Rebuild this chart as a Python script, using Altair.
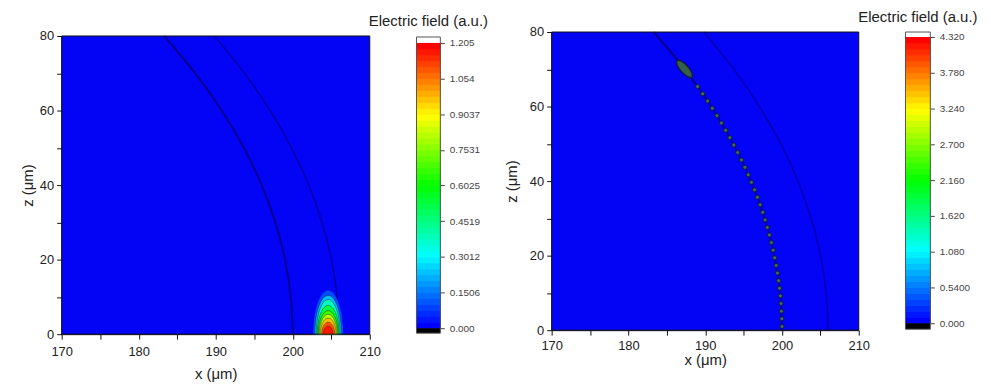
import numpy as np
import pandas as pd
import altair as alt

FONT = "Liberation Sans"
BLUE = "#0303f6"
TXT = "#222222"

# ---------------- data ----------------
x_domain = [170, 210]
z_domain = [0, 80]
x_ticks = [170, 175, 180, 185, 190, 195, 200, 205, 210]
z_ticks = [0, 10, 20, 30, 40, 50, 60, 70, 80]

# dark ring boundaries (x read at given z)
arc_z = [0, 10, 20, 30, 40, 50, 60, 70, 80]
arc_inner_x = [200.0, 199.75, 199.0, 197.74, 195.96, 193.65, 190.79, 187.35, 183.30]
arc_outer_x = [206.0, 205.76, 205.03, 203.80, 202.08, 199.84, 197.06, 193.74, 189.83]

# left panel: hot spot at the bottom edge, contour levels and their half sizes (µm)
spot_x0 = 204.6
spot_levels = [0.03, 0.1506, 0.3012, 0.4519, 0.6025, 0.7531, 0.9037, 1.054, 1.15]
spot_half_w = [1.94, 1.74, 1.55, 1.42, 1.29, 1.16, 1.03, 0.85, 0.62]
spot_half_h = [11.7, 10.4, 9.3, 7.7, 6.3, 5.3, 4.3, 3.2, 2.2]

# right panel: chain of small spots along the inner ring and the large blob
bead_x = [200.0, 199.98, 199.93, 199.87, 199.79, 199.68, 199.56, 199.41, 199.24, 199.05,
          198.85, 198.62, 198.36, 198.09, 197.8, 197.49, 197.15, 196.8, 196.42, 196.02,
          195.61, 195.17, 194.71, 194.23, 193.73, 193.21, 192.67, 192.11, 191.53, 190.93,
          190.31, 189.67, 189.01]
bead_z = [1.0, 3.05, 5.1, 7.15, 9.2, 11.24, 13.29, 15.33, 17.38, 19.42,
          21.46, 23.5, 25.53, 27.56, 29.59, 31.62, 33.64, 35.66, 37.67, 39.68,
          41.69, 43.69, 45.69, 47.68, 49.67, 51.66, 53.63, 55.6, 57.57, 59.53,
          61.48, 63.43, 65.37]
blob_x = [187.3]
blob_z = [70.1]

# colour bars
cbar1_max = 1.205
cbar1_ticks = [0, 0.1506, 0.3012, 0.4519, 0.6025, 0.7531, 0.9037, 1.054, 1.205]
cbar2_max = 4.32
cbar2_ticks = [0, 0.54, 1.08, 1.62, 2.16, 2.70, 3.24, 3.78, 4.32]
n_bands = 48
cmap_stops = [0, 0.25, 0.5, 0.75, 1.0]
cmap_colors = ["#0000ff", "#00ffff", "#00ff00", "#ffff00", "#ff0000"]


def cscale(vmax):
    return alt.Scale(domain=[s * vmax for s in cmap_stops], range=cmap_colors,
                     interpolate="rgb")


def x_axis(title_pad, label_pad):
    return alt.Axis(values=x_ticks, format="d",
                    labelExpr="datum.value % 10 === 0 ? datum.label : ''",
                    tickSize=5, labelPadding=label_pad, labelFontSize=13, titleFontSize=15,
                    titlePadding=title_pad, grid=False, labelFlush=False,
                    domainColor="#111111", tickColor="#111111", labelColor=TXT,
                    titleColor=TXT, labelFont=FONT, titleFont=FONT,
                    titleFontWeight="normal", labelOverlap=False)


def z_axis(title_pad):
    return alt.Axis(values=z_ticks, format="d",
                    labelExpr="datum.value % 20 === 0 ? datum.label : ''",
                    tickSize=5, labelPadding=3, labelFontSize=13, titleFontSize=15,
                    titlePadding=title_pad, grid=False, labelFlush=False,
                    domainColor="#111111", tickColor="#111111", labelColor=TXT,
                    titleColor=TXT, labelFont=FONT, titleFont=FONT,
                    titleFontWeight="normal", labelOverlap=False)


arcs_df = pd.DataFrame({
    "x": arc_inner_x + arc_outer_x,
    "z": arc_z + arc_z,
    "ring": ["inner"] * len(arc_z) + ["outer"] * len(arc_z),
})
box_df = pd.DataFrame({"x0": [x_domain[0]], "x1": [x_domain[1]],
                       "z0": [z_domain[0]], "z1": [z_domain[1]]})


def panel(extra_layers, height, zrange, xt_pad, xl_pad, zt_pad, width, outer_op):
    XS = alt.Scale(domain=x_domain, nice=False, zero=False)
    ZS = alt.Scale(domain=z_domain, nice=False, zero=False, range=zrange)
    xa = x_axis(xt_pad, xl_pad)
    za = z_axis(zt_pad)
    X = alt.X("x:Q", scale=XS, axis=xa, title="x (μm)")
    Z = alt.Y("z:Q", scale=ZS, axis=za, title="z (μm)")
    bg = alt.Chart(box_df).mark_rect(fill=BLUE, strokeWidth=0).encode(
        x=alt.X("x0:Q", scale=XS, axis=xa, title="x (μm)"), x2="x1:Q",
        y=alt.Y("z0:Q", scale=ZS, axis=za, title="z (μm)"), y2="z1:Q")
    inner = alt.Chart(arcs_df).transform_filter("datum.ring === 'inner'").mark_line(
        color="#000050", strokeWidth=2.0, opacity=0.6, interpolate="natural").encode(
        x=X, y=Z, order="z:Q")
    outer = alt.Chart(arcs_df).transform_filter("datum.ring === 'outer'").mark_line(
        color="#000060", strokeWidth=1.8, opacity=outer_op, interpolate="natural").encode(
        x=X, y=Z, order="z:Q")
    frame = alt.Chart(box_df).mark_rect(fill="transparent", stroke="#111111",
                                        strokeWidth=1).encode(
        x=alt.X("x0:Q", scale=XS, axis=xa, title="x (μm)"), x2="x1:Q",
        y=alt.Y("z0:Q", scale=ZS, axis=za, title="z (μm)"), y2="z1:Q")
    layers = [bg, inner, outer] + [f(X, Z) for f in extra_layers] + [frame]
    return alt.layer(*layers).properties(
        width=width, height=height, view=alt.ViewBackground(strokeOpacity=0))


# ---------------- left panel ----------------
fill_vals = [(a + b) / 2 for a, b in zip(spot_levels, spot_levels[1:] + [cbar1_max])]
rows = []
tt = np.linspace(0, np.pi, 73)
for k, (hw, hh) in enumerate(zip(spot_half_w, spot_half_h)):
    for i, t in enumerate(tt):
        rows.append({"k": k, "i": i, "x": spot_x0 + hw * np.cos(t), "z": hh * np.sin(t),
                     "fv": fill_vals[k]})
spot_df = pd.DataFrame(rows)


def spot_band(k):
    def make(X, Z):
        return alt.Chart(spot_df).transform_filter(f"datum.k === {k}").mark_area(
            opacity=1, interpolate="linear").encode(
            x=X, y=Z, y2=alt.datum(0),
            color=alt.Color("fv:Q", scale=cscale(cbar1_max), legend=None))
    return make


def spot_lines(X, Z):
    return alt.Chart(spot_df).transform_filter("datum.k > 0").mark_line(
        color="#141428", strokeWidth=0.6, opacity=0.8).encode(
        x=X, y=Z, detail="k:N", order="i:Q")


left = panel([spot_band(k) for k in range(len(spot_levels))] + [spot_lines],
             304, [304, 4], 9, 6, 4, 310, 0.45)

# ---------------- right panel ----------------
beads_df = pd.DataFrame({"x": bead_x, "z": bead_z})
blob_df = pd.DataFrame({"x": blob_x, "z": blob_z})
ELLIPSE = "M 0 -1 A 0.36 1 0 1 1 0 1 A 0.36 1 0 1 1 0 -1 Z"


def beads_layer(X, Z):
    return alt.Chart(beads_df).mark_circle(
        size=16, fill="#3f6f55", stroke="#10183a", strokeWidth=0.9, opacity=1).encode(x=X, y=Z)


def blob_layer(X, Z):
    return alt.Chart(blob_df).mark_point(
        shape=ELLIPSE, size=500, angle=318, filled=True, fill="#34604a",
        stroke="#141a3a", strokeWidth=1.3, opacity=1).encode(x=X, y=Z)


right = panel([beads_layer, blob_layer], 300, [300, 0], 1, 4, 10, 309, 0.4)


# ---------------- colour bars ----------------
def colorbar(vmax, ticks, dmin, dmax, w, h, yrange, fname, tdy):
    edges = np.linspace(0, vmax, n_bands + 1)
    df = pd.DataFrame({"lo": edges[:-1], "hi": edges[1:],
                       fname: np.linspace(0, vmax, n_bands)})
    ysc = alt.Scale(domain=[dmin, dmax], nice=False, zero=False, range=yrange)
    yaxis = alt.Axis(orient="right", values=ticks,
                     labelExpr="datum.value < 1e-9 ? '0.000' : format(datum.value, '.4r')",
                     tickSize=4, labelPadding=5, labelFontSize=10, labelFont=FONT,
                     labelColor="#444444", tickColor="#444444", domain=False,
                     grid=False, labelFlush=False, labelOverlap=False)
    Y = alt.Y("lo:Q", scale=ysc, axis=yaxis, title=None)
    bands = alt.Chart(df).mark_rect(strokeWidth=1).encode(
        y=Y, y2="hi:Q",
        color=alt.Color(f"{fname}:Q", scale=cscale(vmax), legend=None),
        stroke=alt.Stroke(f"{fname}:Q", scale=cscale(vmax), legend=None))
    black = alt.Chart(pd.DataFrame({"lo": [dmin], "hi": [0]})).mark_rect(color="#000000").encode(
        y=Y, y2="hi:Q")
    white = alt.Chart(pd.DataFrame({"lo": [vmax], "hi": [dmax]})).mark_rect(color="#ffffff").encode(
        y=Y, y2="hi:Q")
    border = alt.Chart(pd.DataFrame({"lo": [dmin], "hi": [dmax]})).mark_rect(
        fill="transparent", stroke="#555555", strokeWidth=1).encode(y=Y, y2="hi:Q")
    return alt.layer(bands, black, white, border).properties(
        width=w, height=h,
        title=alt.TitleParams("Electric field (a.u.)", font=FONT, fontSize=15,
                              fontWeight="normal", color=TXT, anchor="middle",
                              frame="group", offset=6, dy=tdy),
        view=alt.ViewBackground(strokeOpacity=0))


cbar1 = colorbar(cbar1_max, cbar1_ticks, -0.021, 1.230, 24, 303, [303, 5], "c1", 3)
cbar2 = colorbar(cbar2_max, cbar2_ticks, -0.09, 4.395, 25, 299, [299, 0], "c2", -1)

gap = alt.Chart(pd.DataFrame({"a": [0]})).mark_point(opacity=0).encode(
    x=alt.value(0), y=alt.value(0)).properties(
    width=18, height=1, view=alt.ViewBackground(strokeOpacity=0))

chart = alt.hconcat(left, cbar1, gap, right, cbar2, spacing=47, bounds="flush").resolve_scale(
    color="independent", stroke="independent").properties(
    padding={"left": 12, "top": 0, "right": 5, "bottom": 5},
    background="#ffffff")

chart.save("out.html", embed_options={"renderer": "svg", "actions": False})
